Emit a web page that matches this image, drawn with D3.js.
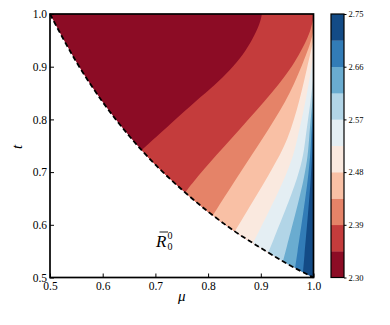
<!DOCTYPE html>
<html>
<head>
<meta charset="utf-8">
<script src="https://cdn.jsdelivr.net/npm/d3@7"></script>
<style>
  body { margin: 0; background: #fff; }
  svg text { font-family: "Liberation Serif", "DejaVu Serif", serif; }
</style>
</head>
<body>
<div id="vis"></div>
<script>
// contour levels of R0 and the colours of the 10 filled bands (RdBu)
const levels = [2.30, 2.345, 2.39, 2.435, 2.48, 2.525, 2.57, 2.615, 2.66, 2.705, 2.75];
const bandColors = ['#8c0c25', '#c43c3c', '#e58368', '#f9c0a5', '#fae9df',
                    '#e4eef3', '#b2d5e7', '#6aacd0', '#327cb7', '#134b86'];
const cbTicks = [2.30, 2.39, 2.48, 2.57, 2.66, 2.75];
const xTicks = [0.5, 0.6, 0.7, 0.8, 0.9, 1.0];
const yTicks = [0.5, 0.6, 0.7, 0.8, 0.9, 1.0];

// dashed edge of the allowed region (mu, t)
const edgeMu = [0.50, 0.55, 0.60, 0.65, 0.70, 0.75, 0.80, 0.85, 0.90, 0.95, 1.00];
const edgeT  = [1.000, 0.909, 0.833, 0.769, 0.714, 0.667, 0.625, 0.588, 0.556, 0.526, 0.500];

// contour lines between bands, [mu, t] from top/right edge down to the dashed edge
const b1 = [[0.902, 1.0], [0.899, 0.983], [0.884, 0.951], [0.866, 0.922], [0.842, 0.894],
            [0.813, 0.865], [0.779, 0.837], [0.728, 0.791], [0.674, 0.742]];
const b2 = [[1.0, 0.993], [0.996, 0.975], [0.988, 0.951], [0.957, 0.894], [0.910, 0.837],
            [0.842, 0.761], [0.790, 0.704], [0.756, 0.661]];
const b3 = [[1.0, 0.972], [0.997, 0.951], [0.975, 0.894], [0.950, 0.837], [0.902, 0.761],
            [0.864, 0.704], [0.809, 0.618]];
const b4 = [[1.0, 0.951], [0.987, 0.894], [0.974, 0.837], [0.952, 0.761], [0.921, 0.704],
            [0.851, 0.588]];
const b5 = [[1.0, 0.922], [0.986, 0.837], [0.969, 0.761], [0.955, 0.704], [0.885, 0.565]];
const b6 = [[1.0, 0.884], [0.995, 0.837], [0.984, 0.761], [0.978, 0.704], [0.914, 0.547]];
const b7 = [[1.0, 0.856], [0.991, 0.761], [0.988, 0.704], [0.942, 0.531]];
const b8 = [[1.0, 0.827], [0.995, 0.761], [0.993, 0.704], [0.965, 0.518]];
const b9 = [[1.0, 0.799], [0.998, 0.761], [0.997, 0.704], [0.980, 0.510]];
const bounds = [b1, b2, b3, b4, b5, b6, b7, b8, b9];

let margin = {top: 14, left: 50, right: 76.5, bottom: 47.5},
    width = 390 - margin.left - margin.right,
    height = 325 - margin.top - margin.bottom;

let svg = d3.select('#vis')
    .append('svg')
    .attr('width', 390)
    .attr('height', 325);

let x = d3.scaleLinear().domain([0.5, 1]).range([0, width]);
let y = d3.scaleLinear().domain([0.5, 1]).range([height, 0]);

let chartGroup = svg.append('g')
    .attr('transform', 'translate(' + margin.left + ',' + margin.top + ')');

let edgePts = edgeMu.map((m, i) => [m, edgeT[i]]);
let edgeLine = d3.line().x(d => x(d[0])).y(d => y(d[1])).curve(d3.curveMonotoneX);
let validPath = edgeLine(edgePts) + 'L' + x(1) + ',' + y(1) + 'Z';

chartGroup.append('clipPath').attr('id', 'valid')
    .append('path').attr('d', validPath);

// lowest band fills the whole allowed region
chartGroup.append('path')
    .attr('d', validPath)
    .attr('fill', bandColors[0]);

// each higher band painted over the part right of its contour line
let bLine = d3.line().x(d => x(d[0])).y(d => y(d[1])).curve(d3.curveBasis);
bounds.forEach(function(pts, k) {
    let start = pts[0], end = pts[pts.length - 1];
    let d = bLine(pts)
        + 'L' + x(end[0]) + ',' + y(0.5)
        + 'L' + x(1) + ',' + y(0.5)
        + 'L' + x(1) + ',' + y(1)
        + 'L' + x(start[0]) + ',' + y(1) + 'Z';
    chartGroup.append('path')
        .attr('d', d)
        .attr('fill', bandColors[k + 1])
        .attr('clip-path', 'url(#valid)');
});

// dashed boundary
chartGroup.append('path')
    .attr('d', edgeLine(edgePts))
    .attr('fill', 'none')
    .attr('stroke', 'black')
    .attr('stroke-width', 1.8)
    .attr('stroke-dasharray', '5,3');

// axes, ticks pointing inward
chartGroup.append('g')
    .attr('transform', 'translate(0,' + height + ')')
    .call(d3.axisBottom(x).tickValues(xTicks).tickFormat(d3.format('.1f'))
        .tickSizeInner(-4).tickSizeOuter(0).tickPadding(4))
    .call(g => g.select('.domain').remove())
    .attr('font-size', 11.5);

chartGroup.append('g')
    .call(d3.axisLeft(y).tickValues(yTicks).tickFormat(d3.format('.1f'))
        .tickSizeInner(-4).tickSizeOuter(0).tickPadding(3))
    .call(g => g.select('.domain').remove())
    .attr('font-size', 11.5);

chartGroup.append('rect')
    .attr('width', width)
    .attr('height', height)
    .attr('fill', 'none')
    .attr('stroke', 'black')
    .attr('stroke-width', 1.7);

// axis labels
svg.append('text')
    .attr('transform', 'translate(22,147) rotate(-90)')
    .attr('text-anchor', 'middle')
    .attr('font-style', 'italic')
    .attr('font-size', 15)
    .text('t');

svg.append('text')
    .attr('x', margin.left + width / 2)
    .attr('y', 301)
    .attr('text-anchor', 'middle')
    .attr('font-style', 'italic')
    .attr('font-size', 15)
    .text('μ');

// R-bar label
let lab = svg.append('g');
lab.append('text').attr('x', 156).attr('y', 247)
    .attr('font-style', 'italic').attr('font-size', 17).text('R');
lab.append('line').attr('x1', 159.5).attr('x2', 168).attr('y1', 232).attr('y2', 232)
    .attr('stroke', 'black').attr('stroke-width', 0.9);
lab.append('text').attr('x', 167.5).attr('y', 239).attr('font-size', 10).text('0');
lab.append('text').attr('x', 167.5).attr('y', 250).attr('font-size', 10).text('0');

// colorbar
let cb = svg.append('g').attr('transform', 'translate(331,' + margin.top + ')');
let cy = d3.scaleLinear().domain([levels[0], levels[levels.length - 1]]).range([height, 0]);
let cbW = 13;
cb.selectAll('rect.band')
    .data(bandColors)
    .enter().append('rect')
    .attr('class', 'band')
    .attr('x', 0)
    .attr('y', (c, i) => cy(levels[i + 1]))
    .attr('width', cbW)
    .attr('height', (c, i) => cy(levels[i]) - cy(levels[i + 1]) + 0.3)
    .attr('fill', c => c);
cb.append('rect')
    .attr('width', cbW)
    .attr('height', height)
    .attr('fill', 'none')
    .attr('stroke', 'black')
    .attr('stroke-width', 1.2);
cb.append('g')
    .attr('transform', 'translate(' + cbW + ',0)')
    .call(d3.axisRight(cy).tickValues(cbTicks).tickFormat(d3.format('.2f'))
        .tickSizeInner(2.5).tickSizeOuter(0).tickPadding(2))
    .call(g => g.select('.domain').remove())
    .attr('font-size', 8.5);
</script>
</body>
</html>
